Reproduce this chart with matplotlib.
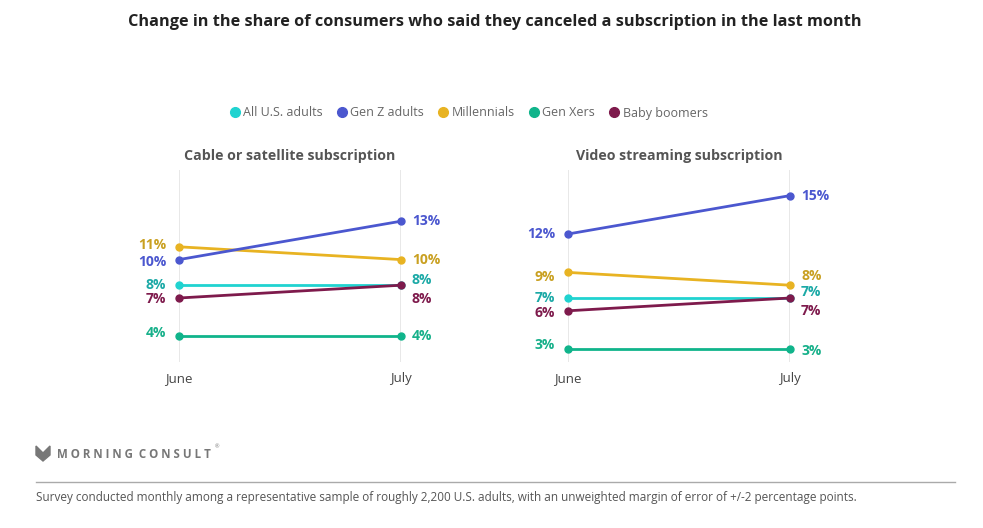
import matplotlib
matplotlib.use('Agg')
import matplotlib.pyplot as plt
from matplotlib.lines import Line2D
from matplotlib.patches import Polygon

plt.rcParams['font.family'] = ['Open Sans', 'DejaVu Sans']

# data
months = ['June', 'July']
groups = ['All U.S. adults', 'Gen Z adults', 'Millennials', 'Gen Xers', 'Baby boomers']
cable = {
    'All U.S. adults': [8, 8],
    'Gen Z adults': [10, 13],
    'Millennials': [11, 10],
    'Gen Xers': [4, 4],
    'Baby boomers': [7, 8],
}
streaming = {
    'All U.S. adults': [7, 7],
    'Gen Z adults': [12, 15],
    'Millennials': [9, 8],
    'Gen Xers': [3, 3],
    'Baby boomers': [6, 7],
}

line_colors = {'All U.S. adults': '#20d3d0', 'Gen Z adults': '#4b57cf',
               'Millennials': '#e8b322', 'Gen Xers': '#10b48b', 'Baby boomers': '#7e1a4c'}
label_colors = {'All U.S. adults': '#1ba9a6', 'Gen Z adults': '#4b57cf',
                'Millennials': '#c9a021', 'Gen Xers': '#17b08a', 'Baby boomers': '#7e1a4c'}

# label nudges in pixels (june, july), to keep labels from overlapping
cable_nudge = {'All U.S. adults': (0, 5), 'Gen Z adults': (-2, 0), 'Millennials': (2, 0),
               'Gen Xers': (3, 0), 'Baby boomers': (-1, -14)}
stream_nudge = {'All U.S. adults': (0, 6), 'Gen Z adults': (0, 0), 'Millennials': (-5, 9),
                'Gen Xers': (4, -2), 'Baby boomers': (-2, -13)}

W, H = 983, 528
fig = plt.figure(figsize=(W / 100, H / 100), dpi=100)

def panel(left_px, data, nudge, title):
    ax = fig.add_axes([left_px / W, 1 - 362 / H, 222 / W, 192 / H])
    ax.set_xlim(0, 1)
    ax.set_ylim(2, 17)
    for x in (0, 1):
        ax.axvline(x, color='#e6e6e6', lw=1.3, zorder=0)
    order = ['All U.S. adults', 'Gen Xers', 'Millennials', 'Gen Z adults', 'Baby boomers']
    for g in order:
        vals = data[g]
        ax.plot([0, 1], vals, color=line_colors[g], lw=2.0, marker='o', ms=5,
                clip_on=False, zorder=3, solid_capstyle='round')
        ax.annotate(f'{vals[0]}%', (0, vals[0]), xytext=(-13, nudge[g][0]),
                    textcoords='offset pixels', ha='right', va='center',
                    fontsize=10, fontweight='bold', color=label_colors[g])
        ax.annotate(f'{vals[1]}%', (1, vals[1]), xytext=(11, nudge[g][1]),
                    textcoords='offset pixels', ha='left', va='center',
                    fontsize=10, fontweight='bold', color=label_colors[g])
    ax.set_xticks([0, 1])
    ax.set_xticklabels(months, fontsize=9.5, color='#444444')
    ax.tick_params(axis='x', length=0, pad=7)
    ax.set_yticks([])
    for s in ax.spines.values():
        s.set_visible(False)
    ax.patch.set_alpha(0)
    ax.set_title(title, fontsize=10.2, fontweight='bold', color='#555555', pad=7)
    return ax

panel(179, cable, cable_nudge, 'Cable or satellite subscription')
panel(568, streaming, stream_nudge, 'Video streaming subscription')

fig.text(495 / W, 1 - 22 / H,
         'Change in the share of consumers who said they canceled a subscription in the last month',
         ha='center', va='center', fontsize=11.7, fontweight='bold', color='#222222')

handles = [Line2D([], [], ls='none', marker='o', ms=7, color=line_colors[g]) for g in groups]
fig.legend(handles, groups, loc='center', bbox_to_anchor=(468 / W, 1 - 113 / H), ncol=5,
           frameon=False, fontsize=9, labelcolor='#666666', handletextpad=0.2,
           columnspacing=1.0, handlelength=1.0)

# logo
logo_pts = [(36, 446), (43, 453), (50, 446), (50, 455), (43, 461), (36, 455)]
logo = Polygon([(x / W, 1 - y / H) for x, y in logo_pts], closed=True,
               color='#777777', transform=fig.transFigure)
fig.patches.append(logo)
fig.text(57 / W, 1 - 454 / H, 'M O R N I N G  C O N S U L T', ha='left', va='center',
         fontsize=8.3, fontweight='bold', color='#777777')
fig.text(215 / W, 1 - 447 / H, '®', ha='left', va='center', fontsize=4, color='#777777')

fig.add_artist(Line2D([36 / W, 955 / W], [1 - 482 / H, 1 - 482 / H], color='#aaaaaa', lw=1))
fig.text(36 / W, 1 - 497 / H,
         'Survey conducted monthly among a representative sample of roughly 2,200 U.S. adults, '
         'with an unweighted margin of error of +/-2 percentage points.',
         ha='left', va='center', fontsize=8.5, color='#555555')

fig.savefig('out.png', dpi=100, facecolor='white')
